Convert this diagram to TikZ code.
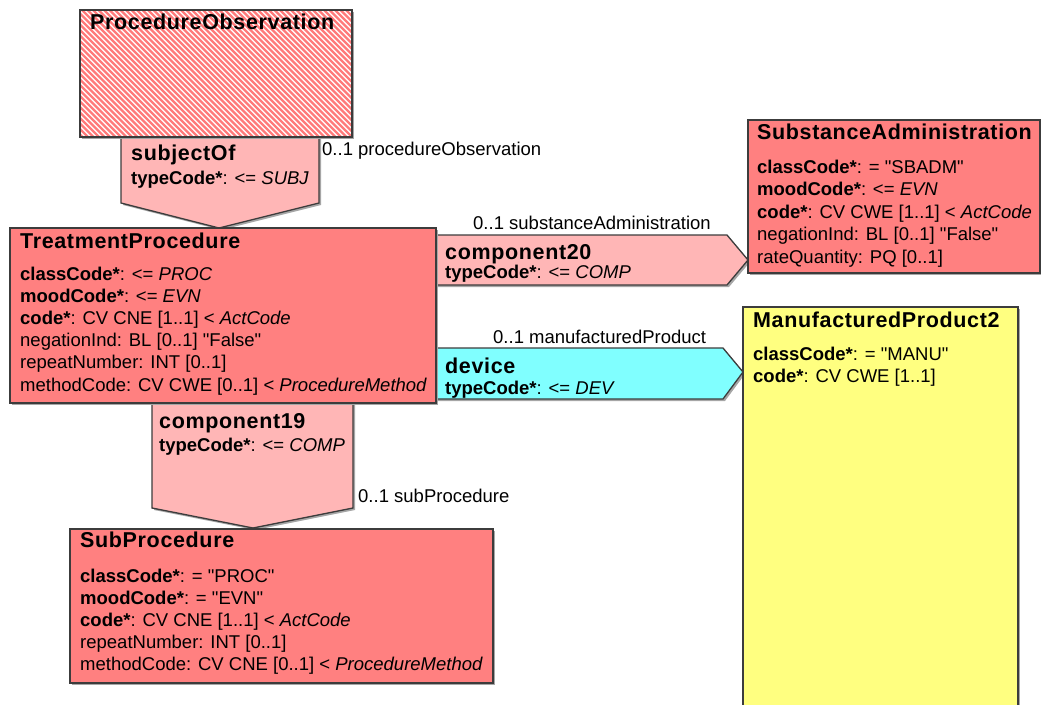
\documentclass[tikz,border=0pt]{standalone}
\usepackage{fontspec}
\setmainfont{Liberation Sans}[Ligatures=TeXOff]
\newfontfamily\titlefont{Liberation Sans}[LetterSpace=3,Ligatures=TeXOff]
\definecolor{actred}{RGB}{255,128,128}
\definecolor{linkpink}{RGB}{255,182,182}
\definecolor{devcyan}{RGB}{128,255,255}
\definecolor{roleyellow}{RGB}{255,255,128}
\definecolor{edge}{RGB}{60,60,60}
\definecolor{hatchred}{RGB}{255,122,122}
\begin{document}
\begin{tikzpicture}[x=1pt,y=-1pt,
  outline/.style={draw=edge,line width=1.3pt,line join=miter},
  shade/.style={fill=black!35,draw=none},
  ttl/.style={anchor=base west,inner sep=0pt,font=\titlefont\bfseries\fontsize{21.5}{25}\selectfont},
  attr/.style={anchor=base west,inner sep=0pt,font=\fontsize{18.5}{22}\selectfont},
  lbl/.style={anchor=base west,inner sep=0pt,font=\fontsize{18.5}{22}\selectfont},
  hatch/.style={hatchred,line width=2.4pt}]
\useasboundingbox (0,0) rectangle (1041,704);

% ---- association shapes (drawn under the classes) ----
\fill[shade] (123,139) -- (321,139) -- (321,205) -- (221,230) -- (123,205) -- cycle;
\draw[outline,fill=linkpink] (121,137) -- (319,137) -- (319,203) -- (219,228) -- (121,203) -- cycle;

\fill[shade] (438,237) -- (729,237) -- (750,262) -- (729,287) -- (438,287) -- cycle;
\draw[outline,fill=linkpink] (436,235) -- (727,235) -- (748,260) -- (727,285) -- (436,285) -- cycle;

\fill[shade] (438,350) -- (725,350) -- (745,374) -- (725,401) -- (438,401) -- cycle;
\draw[outline,fill=devcyan] (436,348) -- (723,348) -- (743,372) -- (723,399) -- (436,399) -- cycle;

\fill[shade] (154,405) -- (355,405) -- (355,510) -- (255,530) -- (154,510) -- cycle;
\draw[outline,fill=linkpink] (152,403) -- (353,403) -- (353,508) -- (253,528) -- (152,508) -- cycle;

% ---- class boxes ----
% ProcedureObservation (hatched reference)
\fill[shade] (82,12) rectangle (354,139);
\fill[white] (80,10) rectangle (352,137);
\begin{scope}
  \clip (80,10) rectangle (352,137);
  \foreach \i in {-50,-44.5,...,356} \draw[hatch] (\i,10) -- ++(127,127);
\end{scope}
\draw[outline] (80,10) rectangle (352,137);

\fill[shade] (12,230) rectangle (438,405);
\draw[outline,fill=actred] (10,228) rectangle (436,403);

\fill[shade] (750,122) rectangle (1042,275);
\draw[outline,fill=actred] (748,120) rectangle (1040,273);

\fill[shade] (745,309) rectangle (1020,712);
\draw[outline,fill=roleyellow] (743,307) rectangle (1018,712);

\fill[shade] (72,531) rectangle (495,685);
\draw[outline,fill=actred] (70,529) rectangle (493,683);

% ---- texts ----
\node[ttl] (po-t) at (90,29) {ProcedureObservation};

\node[ttl] (so-t) at (131,160) {subjectOf};
\node[attr] (so-a) at (131,184) {\textbf{typeCode*}: <= \textit{SUBJ}};
\node[lbl] (so-l) at (322,155) {0..1 procedureObservation};

\node[ttl] (tp-t) at (20,248) {TreatmentProcedure};
\node[attr] (tp-a1) at (20,280) {\textbf{classCode*}: <= \textit{PROC}};
\node[attr] (tp-a2) at (20,302) {\textbf{moodCode*}: <= \textit{EVN}};
\node[attr] (tp-a3) at (20,324) {\textbf{code*}: CV CNE [1..1] < \textit{ActCode}};
\node[attr] (tp-a4) at (20,346) {negationInd: BL [0..1] "False"};
\node[attr] (tp-a5) at (20,368) {repeatNumber: INT [0..1]};
\node[attr] (tp-a6) at (20,391) {methodCode: CV CWE [0..1] < \textit{ProcedureMethod}};

\node[ttl] (c20-t) at (445,259) {component20};
\node[attr] (c20-a) at (445,278) {\textbf{typeCode*}: <= \textit{COMP}};
\node[lbl] (c20-l) at (473,229) {0..1 substanceAdministration};

\node[ttl] (sa-t) at (757,139) {SubstanceAdministration};
\node[attr] (sa-a1) at (757,173) {\textbf{classCode*}: = "SBADM"};
\node[attr] (sa-a2) at (757,195) {\textbf{moodCode*}: <= \textit{EVN}};
\node[attr] (sa-a3) at (757,218) {\textbf{code*}: CV CWE [1..1] < \textit{ActCode}};
\node[attr] (sa-a4) at (757,240) {negationInd: BL [0..1] "False"};
\node[attr] (sa-a5) at (757,263) {rateQuantity: PQ [0..1]};

\node[ttl] (dev-t) at (445,373) {device};
\node[attr] (dev-a) at (445,394) {\textbf{typeCode*}: <= \textit{DEV}};
\node[lbl] (dev-l) at (493,343) {0..1 manufacturedProduct};

\node[ttl] (mp-t) at (753,327) {ManufacturedProduct2};
\node[attr] (mp-a1) at (753,360) {\textbf{classCode*}: = "MANU"};
\node[attr] (mp-a2) at (753,382) {\textbf{code*}: CV CWE [1..1]};

\node[ttl] (c19-t) at (159,428) {component19};
\node[attr] (c19-a) at (159,451) {\textbf{typeCode*}: <= \textit{COMP}};
\node[lbl] (c19-l) at (358,502) {0..1 subProcedure};

\node[ttl] (sp-t) at (80,547) {SubProcedure};
\node[attr] (sp-a1) at (80,582) {\textbf{classCode*}: = "PROC"};
\node[attr] (sp-a2) at (80,604) {\textbf{moodCode*}: = "EVN"};
\node[attr] (sp-a3) at (80,626) {\textbf{code*}: CV CNE [1..1] < \textit{ActCode}};
\node[attr] (sp-a4) at (80,648) {repeatNumber: INT [0..1]};
\node[attr] (sp-a5) at (80,670) {methodCode: CV CNE [0..1] < \textit{ProcedureMethod}};
\end{tikzpicture}
\end{document}
